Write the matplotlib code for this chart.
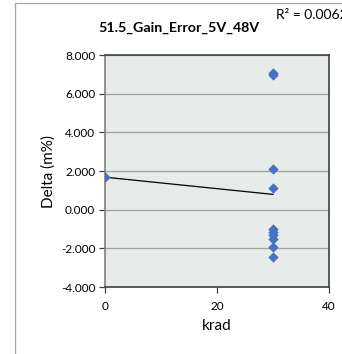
import numpy as np
import matplotlib
matplotlib.use("Agg")
import matplotlib.pyplot as plt
import matplotlib.ticker as tkr
from matplotlib.patches import Rectangle

# data
krad = [0, 30, 30, 30, 30, 30, 30, 30, 30, 30, 30]
delta = [1.68, 7.05, 6.95, 2.1, 1.1, -0.98, -1.15, -1.3, -1.52, -1.92, -2.43]
title = "51.5_Gain_Error_5V_48V"
r2_label = "R\u00b2 = 0.0062"
y_ticks = [-4, -2, 0, 2, 4, 6, 8]
x_ticks = [0, 20, 40]

plt.rcParams['font.family'] = ['Lato', 'DejaVu Sans']

fig = plt.figure(figsize=(3.42, 3.54), dpi=100)

# outer chart frame (only left and top edges are visible)
fig.patches.append(Rectangle((15 / 342, -0.1), 1.2, 1 - 3 / 354 + 0.1,
                             transform=fig.transFigure, fill=False,
                             edgecolor='#a6a6a6', linewidth=0.9))

ax = fig.add_axes([105 / 342, 1 - 287 / 354, 224 / 342, 232 / 354])
ax.set_facecolor('#e7ebea')

ax.scatter(krad, delta, marker='D', s=28, color='#4472c4', zorder=3, linewidths=0)

# linear trendline over the data range
slope, icpt = np.polyfit(krad, delta, 1)
xs = np.array([min(krad), max(krad)])
ax.plot(xs, slope * xs + icpt, color='black', linewidth=0.9, zorder=2)

ax.set_xlim(0, 40)
ax.set_ylim(-4, 8)
ax.set_xticks(x_ticks)
ax.set_yticks(y_ticks)
ax.yaxis.set_major_formatter(tkr.FuncFormatter(lambda v, p: '%.3f' % v))
ax.grid(axis='y', color='#a0a0a0', linewidth=0.9)
ax.set_axisbelow(True)

for s in ax.spines.values():
    s.set_color('#404040')
    s.set_linewidth(1.2)
ax.spines['left'].set_color('#808080')

ax.tick_params(axis='both', labelsize=8.5, colors='#404040', length=4,
               width=0.9, direction='out', labelcolor='black')
ax.tick_params(axis='x', pad=6)
ax.tick_params(axis='y', pad=3)

ax.set_xlabel('krad', fontsize=11, labelpad=5)
ax.set_ylabel('Delta (m%)', fontsize=11, labelpad=4)

fig.text(179 / 342, 1 - 28 / 354, title, fontsize=10.3, fontweight='bold',
         ha='center', va='center')
fig.text(276 / 342, 1 - 15 / 354, r2_label, fontsize=10, ha='left', va='center')

plt.savefig('out.png', dpi=100)
plt.close()
